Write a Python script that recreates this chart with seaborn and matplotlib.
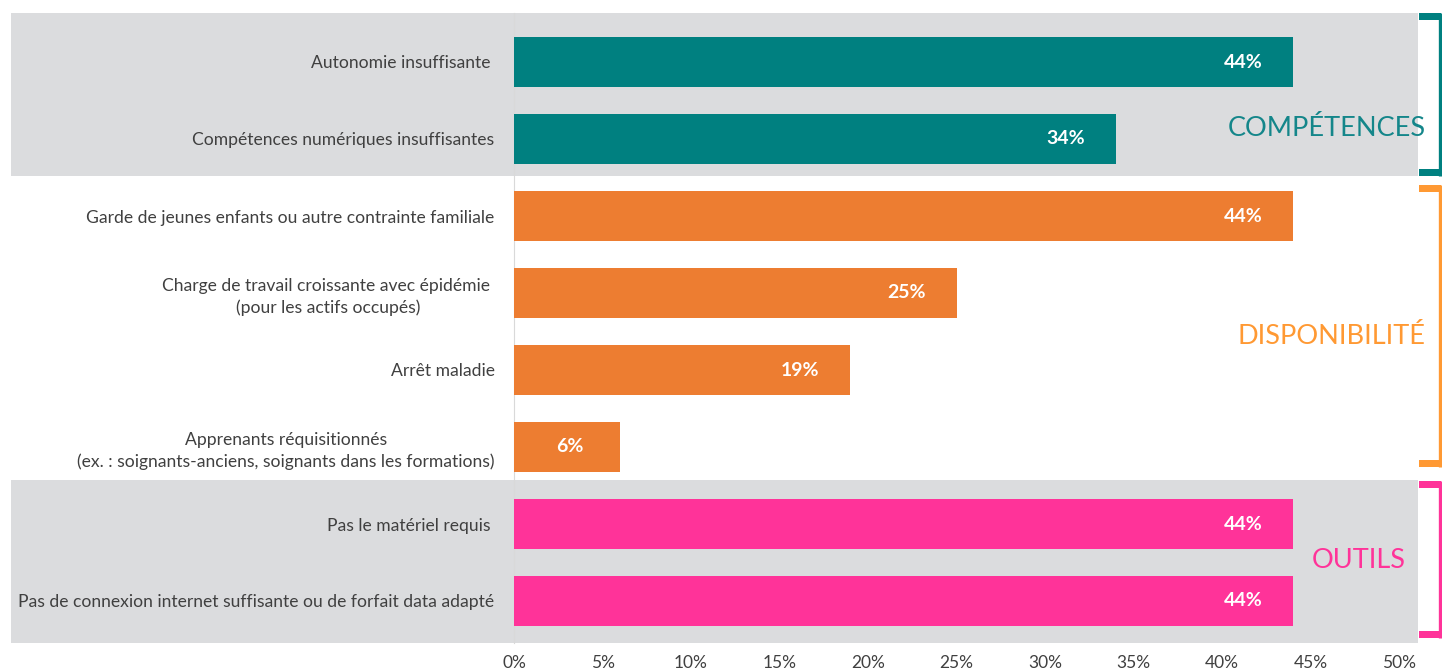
import matplotlib
matplotlib.use("Agg")
import matplotlib.pyplot as plt
import matplotlib.transforms as mtransforms
from matplotlib.patches import Rectangle
import seaborn as sns
import pandas as pd

categories = [
    "Autonomie insuffisante ",
    "Compétences numériques insuffisantes",
    "Garde de jeunes enfants ou autre contrainte familiale",
    "Charge de travail croissante avec épidémie \n(pour les actifs occupés)",
    "Arrêt maladie",
    "Apprenants réquisitionnés\n(ex. : soignants-anciens, soignants dans les formations)",
    "Pas le matériel requis ",
    "Pas de connexion internet suffisante ou de forfait data adapté",
]
values = [44, 34, 44, 25, 19, 6, 44, 44]
groups = ["COMPÉTENCES", "COMPÉTENCES", "DISPONIBILITÉ", "DISPONIBILITÉ",
          "DISPONIBILITÉ", "DISPONIBILITÉ", "OUTILS", "OUTILS"]
group_names = ["COMPÉTENCES", "DISPONIBILITÉ", "OUTILS"]
tick_values = [0, 5, 10, 15, 20, 25, 30, 35, 40, 45, 50]

bar_colors = {"COMPÉTENCES": "#008080", "DISPONIBILITÉ": "#ED7D31", "OUTILS": "#FF3399"}
text_colors = {"COMPÉTENCES": "#14868A", "DISPONIBILITÉ": "#FF9933", "OUTILS": "#FF3399"}
band_color = "#DBDCDE"

df = pd.DataFrame({"cat": categories, "val": values, "grp": groups})

sns.set_theme(style="white")
plt.rcParams["font.family"] = ["Lato", "DejaVu Sans"]

W, H = 1442, 671
fig = plt.figure(figsize=(W / 100, H / 100), dpi=100)
ax_left, ax_right, ax_top, ax_bot = 514, 1418, 13, 643
ax = fig.add_axes([ax_left / W, (H - ax_bot) / H, (ax_right - ax_left) / W, (ax_bot - ax_top) / H])

px_per_pct = (1293 - 514) / 44.0
xmax = (ax_right - ax_left) / px_per_pct

def py(p):
    return (p - 62) / 77.0

# background bands
trans = mtransforms.blended_transform_factory(ax.transAxes, ax.transData)
band_x0 = (11 - ax_left) / (ax_right - ax_left)
for y0, y1 in [(13, 176), (480, 643)]:
    ax.add_patch(Rectangle((band_x0, py(y0)), 1 - band_x0, py(y1) - py(y0),
                           transform=trans, facecolor=band_color, edgecolor="none",
                           clip_on=False, zorder=0))

sns.barplot(data=df, y="cat", x="val", hue="grp", palette=bar_colors, dodge=False,
            width=0.65, orient="h", ax=ax, legend=False, zorder=2, saturation=1,
            linewidth=0, edgecolor="none")

ax.set_xlim(0, xmax)
ax.set_ylim(py(ax_bot), py(ax_top))
ax.set_xticks(tick_values)
ax.set_xticklabels([f"{v}%" for v in tick_values], fontsize=12.5, color="#404040")
ax.tick_params(axis="x", length=0, pad=9)
ax.tick_params(axis="y", length=0, pad=14)
for lbl in ax.get_yticklabels():
    lbl.set_fontsize(12.6)
    lbl.set_color("#404040")
    lbl.set_horizontalalignment("right")
    lbl.set_multialignment("center")
    lbl.set_linespacing(1.4)
ax.set_xlabel("")
ax.set_ylabel("")
for s in ["top", "right", "bottom"]:
    ax.spines[s].set_visible(False)
ax.spines["left"].set_color("#D9D9D9")
ax.spines["left"].set_linewidth(0.8)
ax.spines["left"].set_zorder(1)
ax.patch.set_alpha(0)

# value labels
for i, v in enumerate(values):
    ax.annotate(f"{v}%", xy=(v, i), xytext=(-36, 0), textcoords="offset points",
                ha="center", va="center", color="white", fontsize=14,
                fontweight="bold", zorder=3)

# group labels
group_pos = {"COMPÉTENCES": (1326.5, 128), "DISPONIBILITÉ": (1331.5, 337), "OUTILS": (1359, 560)}
for g in group_names:
    xp, yp = group_pos[g]
    ax.text((xp - ax_left) / (ax_right - ax_left), py(yp), g, transform=trans,
            ha="center", va="center", fontsize=19.5, color=text_colors[g], zorder=3)

# brackets
bracket_spans = {"COMPÉTENCES": (13, 176), "DISPONIBILITÉ": (185, 467), "OUTILS": (481, 638)}
bracket_colors = {"COMPÉTENCES": "#008080", "DISPONIBILITÉ": "#FF9933", "OUTILS": "#FF3399"}
xl = (1419 - ax_left) / (ax_right - ax_left)
xv = (1439.5 - ax_left) / (ax_right - ax_left)
for g in group_names:
    y0, y1 = bracket_spans[g]
    c = bracket_colors[g]
    ax.plot([xv, xv], [py(y0), py(y1)], transform=trans, color=c, lw=2.4,
            clip_on=False, solid_capstyle="butt", zorder=3)
    for yy, sign in [(y0, 1), (y1, -1)]:
        ax.add_patch(Rectangle((xl, py(yy)), xv - xl + 0.002, py(yy + sign * 7) - py(yy),
                               transform=trans, facecolor=c, edgecolor="none",
                               clip_on=False, zorder=3))

fig.savefig("out.png", dpi=100)
